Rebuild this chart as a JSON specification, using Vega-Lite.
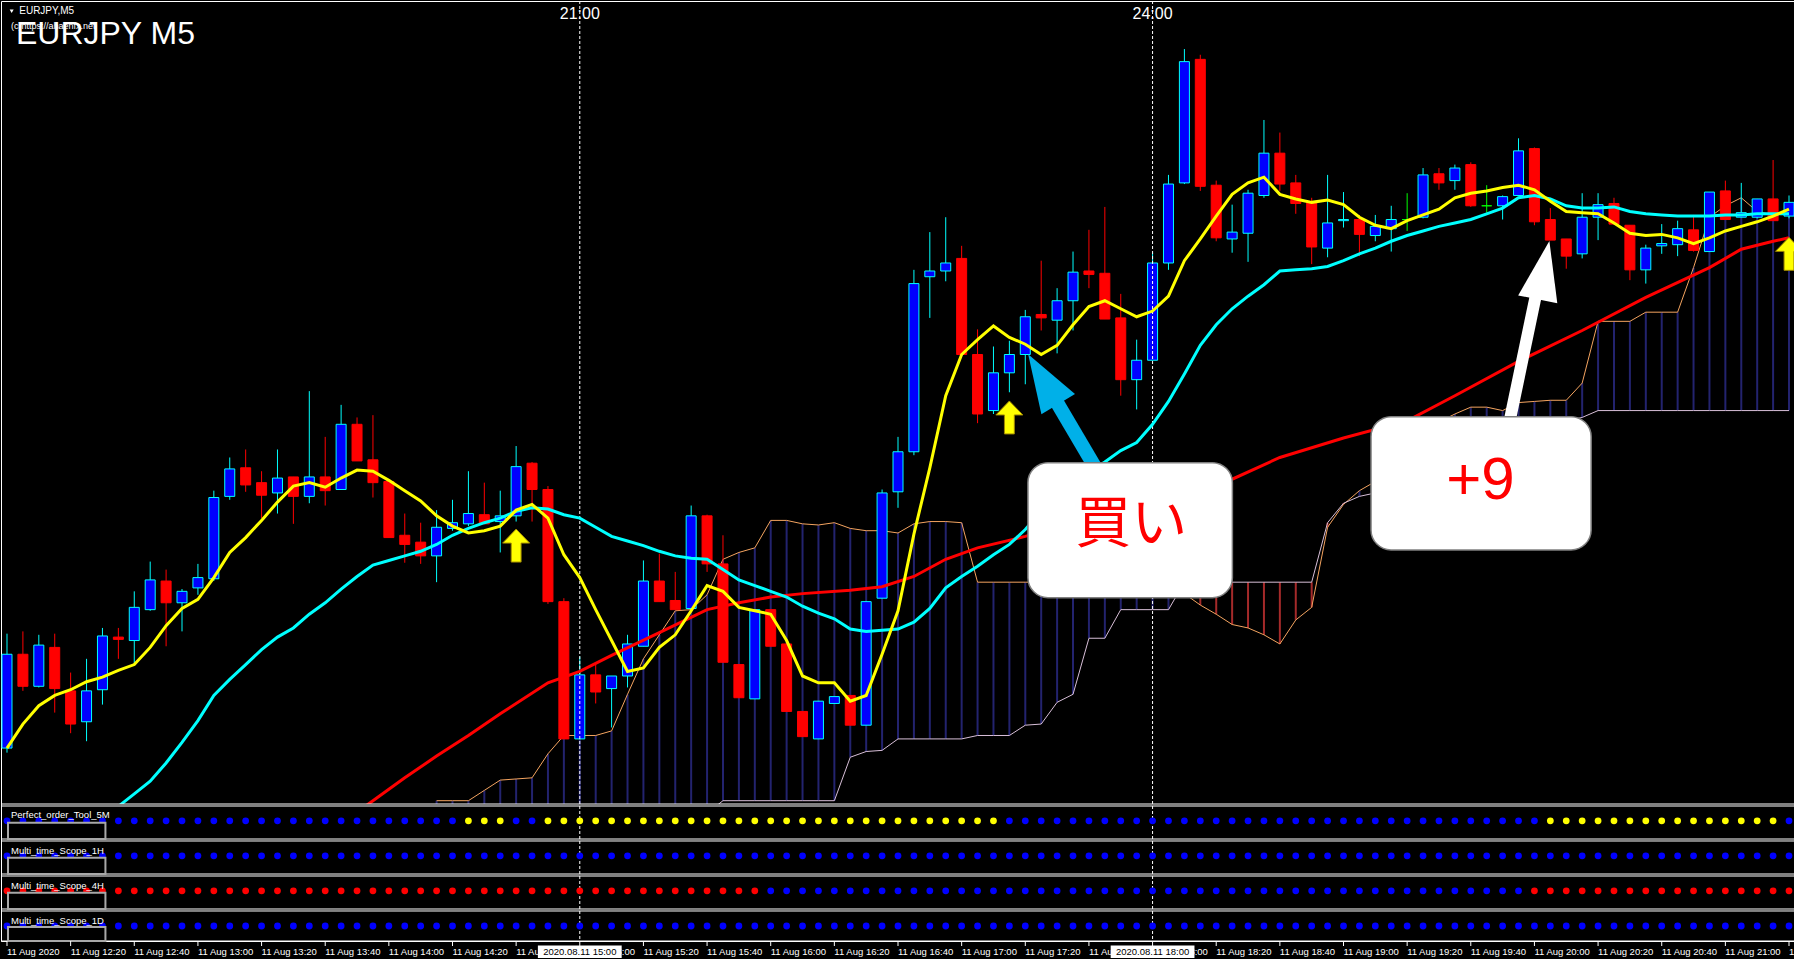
{
"$schema":"https://vega.github.io/schema/vega-lite/v6.json",
"background":"#000000",
"padding":0,
"config":{"view":{"stroke":"#ffffff","strokeWidth":1},"font":"Liberation Sans"},
"datasets":{
"bars":[
{"t":"2020-08-11T12:00Z","o":124.847,"h":124.947,"l":124.843,"c":124.929,"d":"u","m1":124.847,"p":"b","q":"r"},
{"t":"2020-08-11T12:05Z","o":124.929,"h":124.949,"l":124.897,"c":124.901,"d":"d","m1":124.868,"p":"b","q":"r"},
{"t":"2020-08-11T12:10Z","o":124.901,"h":124.946,"l":124.900,"c":124.937,"d":"u","m1":124.884,"p":"b","q":"r"},
{"t":"2020-08-11T12:15Z","o":124.935,"h":124.947,"l":124.878,"c":124.899,"d":"d","m1":124.893,"p":"b","q":"r"},
{"t":"2020-08-11T12:20Z","o":124.897,"h":124.913,"l":124.860,"c":124.868,"d":"d","m1":124.898,"p":"b","q":"r"},
{"t":"2020-08-11T12:25Z","o":124.870,"h":124.925,"l":124.853,"c":124.897,"d":"u","m1":124.905,"p":"b","q":"r"},
{"t":"2020-08-11T12:30Z","o":124.898,"h":124.952,"l":124.885,"c":124.945,"d":"u","m1":124.909,"p":"b","q":"r"},
{"t":"2020-08-11T12:35Z","o":124.944,"h":124.952,"l":124.925,"c":124.942,"d":"d","m1":124.915,"m2":124.796,"p":"b","q":"r"},
{"t":"2020-08-11T12:40Z","o":124.941,"h":124.984,"l":124.921,"c":124.970,"d":"u","m1":124.920,"m2":124.807,"p":"b","q":"r"},
{"t":"2020-08-11T12:45Z","o":124.968,"h":125.010,"l":124.967,"c":124.994,"d":"u","m1":124.935,"m2":124.818,"p":"b","q":"r"},
{"t":"2020-08-11T12:50Z","o":124.993,"h":125.003,"l":124.936,"c":124.974,"d":"d","m1":124.954,"m2":124.834,"p":"b","q":"r"},
{"t":"2020-08-11T12:55Z","o":124.974,"h":124.986,"l":124.949,"c":124.984,"d":"u","m1":124.969,"m2":124.852,"p":"b","q":"r"},
{"t":"2020-08-11T13:00Z","o":124.987,"h":125.008,"l":124.981,"c":124.996,"d":"u","m1":124.977,"m2":124.871,"p":"b","q":"r"},
{"t":"2020-08-11T13:05Z","o":124.995,"h":125.072,"l":124.993,"c":125.066,"d":"u","m1":124.996,"m2":124.893,"p":"b","q":"r"},
{"t":"2020-08-11T13:10Z","o":125.067,"h":125.101,"l":125.064,"c":125.091,"d":"u","m1":125.018,"m2":124.907,"p":"b","q":"r"},
{"t":"2020-08-11T13:15Z","o":125.092,"h":125.108,"l":125.071,"c":125.077,"d":"d","m1":125.031,"m2":124.920,"p":"b","q":"r"},
{"t":"2020-08-11T13:20Z","o":125.079,"h":125.089,"l":125.048,"c":125.068,"d":"d","m1":125.046,"m2":124.933,"p":"b","q":"r"},
{"t":"2020-08-11T13:25Z","o":125.070,"h":125.108,"l":125.052,"c":125.083,"d":"u","m1":125.062,"m2":124.944,"p":"b","q":"r"},
{"t":"2020-08-11T13:30Z","o":125.084,"h":125.084,"l":125.043,"c":125.067,"d":"d","m1":125.076,"m2":124.952,"p":"b","q":"r"},
{"t":"2020-08-11T13:35Z","o":125.067,"h":125.159,"l":125.061,"c":125.084,"d":"u","m1":125.079,"m2":124.964,"p":"b","q":"r"},
{"t":"2020-08-11T13:40Z","o":125.084,"h":125.119,"l":125.059,"c":125.072,"d":"d","m1":125.075,"m2":124.974,"p":"b","q":"r"},
{"t":"2020-08-11T13:45Z","o":125.073,"h":125.147,"l":125.073,"c":125.130,"d":"u","m1":125.083,"m2":124.986,"p":"b","q":"r"},
{"t":"2020-08-11T13:50Z","o":125.130,"h":125.136,"l":125.098,"c":125.098,"d":"d","m1":125.090,"m2":124.997,"p":"b","q":"r"},
{"t":"2020-08-11T13:55Z","o":125.099,"h":125.138,"l":125.066,"c":125.079,"d":"d","m1":125.089,"m2":125.007,"p":"b","q":"r"},
{"t":"2020-08-11T14:00Z","o":125.080,"h":125.080,"l":125.031,"c":125.031,"d":"d","m1":125.081,"m2":125.011,"p":"b","q":"r"},
{"t":"2020-08-11T14:05Z","o":125.033,"h":125.052,"l":125.009,"c":125.025,"d":"d","m1":125.072,"m2":125.015,"p":"b","q":"r"},
{"t":"2020-08-11T14:10Z","o":125.027,"h":125.044,"l":125.008,"c":125.015,"d":"d","m1":125.063,"m2":125.019,"p":"b","q":"r"},
{"t":"2020-08-11T14:15Z","o":125.015,"h":125.055,"l":124.992,"c":125.040,"d":"u","m1":125.050,"m2":125.025,"sa":124.801,"sb":124.790,"p":"b","q":"r"},
{"t":"2020-08-11T14:20Z","o":125.039,"h":125.064,"l":125.037,"c":125.044,"d":"u","m1":125.041,"m2":125.033,"sa":124.801,"sb":124.790,"p":"b","q":"r"},
{"t":"2020-08-11T14:25Z","o":125.043,"h":125.089,"l":125.041,"c":125.052,"d":"u","m1":125.035,"m2":125.039,"sa":124.801,"sb":124.790,"p":"y","q":"r"},
{"t":"2020-08-11T14:30Z","o":125.051,"h":125.079,"l":125.043,"c":125.043,"d":"d","m1":125.037,"m2":125.044,"sa":124.810,"sb":124.790,"p":"y","q":"r"},
{"t":"2020-08-11T14:35Z","o":125.045,"h":125.072,"l":125.018,"c":125.050,"d":"u","m1":125.041,"m2":125.048,"sa":124.819,"sb":124.790,"p":"y","q":"r"},
{"t":"2020-08-11T14:40Z","o":125.050,"h":125.111,"l":125.045,"c":125.093,"d":"u","m1":125.055,"m2":125.054,"sa":124.820,"sb":124.790,"p":"b","q":"r"},
{"t":"2020-08-11T14:45Z","o":125.096,"h":125.097,"l":125.045,"c":125.073,"d":"d","m1":125.060,"m2":125.057,"sa":124.821,"sb":124.790,"p":"b","q":"r"},
{"t":"2020-08-11T14:50Z","o":125.073,"h":125.076,"l":124.973,"c":124.975,"d":"d","m1":125.048,"m2":125.056,"sa":124.842,"sb":124.790,"p":"y","q":"r"},
{"t":"2020-08-11T14:55Z","o":124.975,"h":124.978,"l":124.855,"c":124.855,"d":"d","m1":125.016,"m2":125.051,"sa":124.858,"sb":124.790,"p":"y","q":"r"},
{"t":"2020-08-11T15:00Z","o":124.855,"h":124.927,"l":124.855,"c":124.911,"d":"u","m1":124.996,"m2":125.048,"sa":124.858,"sb":124.790,"p":"y","q":"r"},
{"t":"2020-08-11T15:05Z","o":124.911,"h":124.922,"l":124.886,"c":124.896,"d":"d","m1":124.968,"m2":125.040,"sa":124.858,"sb":124.790,"p":"y","q":"r"},
{"t":"2020-08-11T15:10Z","o":124.899,"h":124.910,"l":124.865,"c":124.910,"d":"u","m1":124.941,"m2":125.032,"sa":124.862,"sb":124.790,"p":"y","q":"r"},
{"t":"2020-08-11T15:15Z","o":124.910,"h":124.946,"l":124.900,"c":124.938,"d":"u","m1":124.914,"m2":125.028,"sa":124.894,"sb":124.790,"p":"y","q":"r"},
{"t":"2020-08-11T15:20Z","o":124.936,"h":125.011,"l":124.936,"c":124.993,"d":"u","m1":124.917,"m2":125.024,"sa":124.925,"sb":124.790,"p":"y","q":"r"},
{"t":"2020-08-11T15:25Z","o":124.993,"h":125.017,"l":124.975,"c":124.975,"d":"d","m1":124.935,"m2":125.019,"sa":124.946,"sb":124.790,"p":"y","q":"r"},
{"t":"2020-08-11T15:30Z","o":124.976,"h":125.001,"l":124.968,"c":124.968,"d":"d","m1":124.946,"m2":125.015,"sa":124.967,"sb":124.790,"p":"y","q":"r"},
{"t":"2020-08-11T15:35Z","o":124.969,"h":125.059,"l":124.969,"c":125.050,"d":"u","m1":124.967,"m2":125.013,"sa":124.968,"sb":124.790,"p":"y","q":"r"},
{"t":"2020-08-11T15:40Z","o":125.050,"h":125.051,"l":125.001,"c":125.008,"d":"d","m1":124.989,"m2":125.012,"sa":124.981,"sb":124.790,"p":"y","q":"r"},
{"t":"2020-08-11T15:45Z","o":125.008,"h":125.033,"l":124.922,"c":124.922,"d":"d","m1":124.984,"m2":125.003,"sa":125.012,"sb":124.801,"p":"y","q":"r"},
{"t":"2020-08-11T15:50Z","o":124.920,"h":124.920,"l":124.891,"c":124.891,"d":"d","m1":124.970,"m2":124.994,"sa":125.018,"sb":124.801,"p":"y","q":"r"},
{"t":"2020-08-11T15:55Z","o":124.890,"h":124.968,"l":124.890,"c":124.968,"d":"u","m1":124.967,"m2":124.989,"sa":125.022,"sb":124.801,"p":"y","q":"r"},
{"t":"2020-08-11T16:00Z","o":124.968,"h":124.968,"l":124.936,"c":124.936,"d":"d","m1":124.964,"m2":124.984,"sa":125.046,"sb":124.801,"p":"y","q":"b"},
{"t":"2020-08-11T16:05Z","o":124.938,"h":124.938,"l":124.879,"c":124.879,"d":"d","m1":124.941,"m2":124.979,"sa":125.046,"sb":124.801,"p":"y","q":"b"},
{"t":"2020-08-11T16:10Z","o":124.879,"h":124.879,"l":124.857,"c":124.857,"d":"d","m1":124.910,"m2":124.971,"sa":125.043,"sb":124.801,"p":"y","q":"b"},
{"t":"2020-08-11T16:15Z","o":124.855,"h":124.888,"l":124.855,"c":124.888,"d":"u","m1":124.904,"m2":124.965,"sa":125.042,"sb":124.801,"p":"y","q":"b"},
{"t":"2020-08-11T16:20Z","o":124.886,"h":124.892,"l":124.886,"c":124.892,"d":"u","m1":124.904,"m2":124.960,"sa":125.044,"sb":124.801,"p":"y","q":"b"},
{"t":"2020-08-11T16:25Z","o":124.893,"h":124.893,"l":124.867,"c":124.867,"d":"d","m1":124.888,"m2":124.951,"sa":125.039,"sb":124.839,"p":"y","q":"b"},
{"t":"2020-08-11T16:30Z","o":124.867,"h":124.975,"l":124.867,"c":124.975,"d":"u","m1":124.893,"m2":124.949,"sa":125.037,"sb":124.844,"p":"y","q":"b"},
{"t":"2020-08-11T16:35Z","o":124.978,"h":125.073,"l":124.978,"c":125.070,"d":"u","m1":124.929,"m2":124.950,"sa":125.037,"sb":124.845,"p":"y","q":"b"},
{"t":"2020-08-11T16:40Z","o":125.071,"h":125.119,"l":125.057,"c":125.106,"d":"u","m1":124.967,"m2":124.951,"sa":125.035,"sb":124.855,"p":"y","q":"b"},
{"t":"2020-08-11T16:45Z","o":125.106,"h":125.265,"l":125.103,"c":125.253,"d":"u","m1":125.034,"m2":124.957,"sa":125.043,"sb":124.855,"p":"y","q":"b"},
{"t":"2020-08-11T16:50Z","o":125.259,"h":125.298,"l":125.223,"c":125.264,"d":"u","m1":125.092,"m2":124.969,"sa":125.045,"sb":124.855,"p":"y","q":"b"},
{"t":"2020-08-11T16:55Z","o":125.264,"h":125.311,"l":125.255,"c":125.271,"d":"u","m1":125.155,"m2":124.987,"sa":125.045,"sb":124.855,"p":"y","q":"b"},
{"t":"2020-08-11T17:00Z","o":125.275,"h":125.286,"l":125.191,"c":125.191,"d":"d","m1":125.191,"m2":124.997,"sa":125.044,"sb":124.855,"p":"y","q":"b"},
{"t":"2020-08-11T17:05Z","o":125.191,"h":125.213,"l":125.131,"c":125.139,"d":"d","m1":125.204,"m2":125.006,"sa":124.992,"sb":124.858,"p":"y","q":"b"},
{"t":"2020-08-11T17:10Z","o":125.142,"h":125.198,"l":125.139,"c":125.175,"d":"u","m1":125.216,"m2":125.016,"sa":124.992,"sb":124.858,"p":"y","q":"b"},
{"t":"2020-08-11T17:15Z","o":125.175,"h":125.203,"l":125.158,"c":125.191,"d":"u","m1":125.206,"m2":125.025,"sa":124.992,"sb":124.858,"p":"b","q":"b"},
{"t":"2020-08-11T17:20Z","o":125.191,"h":125.230,"l":125.165,"c":125.224,"d":"u","m1":125.200,"m2":125.038,"sa":124.992,"sb":124.867,"p":"b","q":"b"},
{"t":"2020-08-11T17:25Z","o":125.226,"h":125.273,"l":125.212,"c":125.223,"d":"d","m1":125.191,"m2":125.054,"sa":124.992,"sb":124.868,"p":"b","q":"b"},
{"t":"2020-08-11T17:30Z","o":125.221,"h":125.249,"l":125.192,"c":125.238,"d":"u","m1":125.199,"m2":125.069,"sa":124.992,"sb":124.887,"p":"b","q":"b"},
{"t":"2020-08-11T17:35Z","o":125.238,"h":125.281,"l":125.212,"c":125.263,"d":"u","m1":125.217,"m2":125.080,"sa":124.992,"sb":124.894,"p":"b","q":"b"},
{"t":"2020-08-11T17:40Z","o":125.264,"h":125.300,"l":125.249,"c":125.261,"d":"d","m1":125.233,"m2":125.089,"sa":124.992,"sb":124.943,"p":"b","q":"b"},
{"t":"2020-08-11T17:45Z","o":125.262,"h":125.320,"l":125.222,"c":125.222,"d":"d","m1":125.238,"m2":125.097,"sa":124.992,"sb":124.943,"p":"b","q":"b"},
{"t":"2020-08-11T17:50Z","o":125.223,"h":125.244,"l":125.155,"c":125.169,"d":"d","m1":125.231,"m2":125.107,"sa":124.992,"sb":124.968,"p":"b","q":"b"},
{"t":"2020-08-11T17:55Z","o":125.169,"h":125.204,"l":125.143,"c":125.186,"d":"u","m1":125.224,"m2":125.114,"sa":124.992,"sb":124.968,"p":"b","q":"b"},
{"t":"2020-08-11T18:00Z","o":125.186,"h":125.280,"l":125.186,"c":125.271,"d":"u","m1":125.229,"m2":125.130,"sa":124.992,"sb":124.968,"p":"b","q":"b"},
{"t":"2020-08-11T18:05Z","o":125.271,"h":125.348,"l":125.265,"c":125.340,"d":"u","m1":125.242,"m2":125.150,"sa":124.992,"sb":124.968,"p":"b","q":"b"},
{"t":"2020-08-11T18:10Z","o":125.341,"h":125.458,"l":125.340,"c":125.447,"d":"u","m1":125.273,"m2":125.174,"sa":124.982,"sb":124.992,"p":"b","q":"b"},
{"t":"2020-08-11T18:15Z","o":125.449,"h":125.453,"l":125.334,"c":125.338,"d":"d","m1":125.292,"m2":125.199,"sa":124.972,"sb":124.992,"p":"b","q":"b"},
{"t":"2020-08-11T18:20Z","o":125.339,"h":125.343,"l":125.290,"c":125.293,"d":"d","m1":125.312,"m2":125.217,"sa":124.964,"sb":124.992,"p":"b","q":"b"},
{"t":"2020-08-11T18:25Z","o":125.292,"h":125.322,"l":125.280,"c":125.298,"d":"u","m1":125.331,"m2":125.231,"sa":124.955,"sb":124.992,"p":"b","q":"b"},
{"t":"2020-08-11T18:30Z","o":125.297,"h":125.335,"l":125.272,"c":125.332,"d":"u","m1":125.341,"m2":125.242,"sa":124.952,"sb":124.992,"p":"b","q":"b"},
{"t":"2020-08-11T18:35Z","o":125.330,"h":125.396,"l":125.328,"c":125.367,"d":"u","m1":125.346,"m2":125.252,"sa":124.946,"sb":124.992,"p":"b","q":"b"},
{"t":"2020-08-11T18:40Z","o":125.367,"h":125.385,"l":125.334,"c":125.340,"d":"d","m1":125.331,"m2":125.264,"sa":124.938,"sb":124.992,"p":"b","q":"b"},
{"t":"2020-08-11T18:45Z","o":125.341,"h":125.348,"l":125.314,"c":125.323,"d":"d","m1":125.327,"m2":125.265,"sa":124.959,"sb":124.992,"p":"b","q":"b"},
{"t":"2020-08-11T18:50Z","o":125.324,"h":125.328,"l":125.270,"c":125.285,"d":"d","m1":125.324,"m2":125.266,"sa":124.970,"sb":124.992,"p":"b","q":"b"},
{"t":"2020-08-11T18:55Z","o":125.284,"h":125.348,"l":125.276,"c":125.306,"d":"u","m1":125.326,"m2":125.268,"sa":125.040,"sb":125.044,"p":"b","q":"b"},
{"t":"2020-08-11T19:00Z","o":125.308,"h":125.333,"l":125.302,"c":125.309,"d":"u","m1":125.322,"m2":125.273,"sa":125.060,"sb":125.061,"p":"b","q":"b"},
{"t":"2020-08-11T19:05Z","o":125.309,"h":125.313,"l":125.277,"c":125.296,"d":"d","m1":125.311,"m2":125.279,"sa":125.072,"sb":125.067,"p":"b","q":"b"},
{"t":"2020-08-11T19:10Z","o":125.295,"h":125.313,"l":125.290,"c":125.303,"d":"u","m1":125.304,"m2":125.284,"sa":125.080,"sb":125.070,"p":"b","q":"b"},
{"t":"2020-08-11T19:15Z","o":125.301,"h":125.321,"l":125.281,"c":125.309,"d":"u","m1":125.301,"m2":125.290,"sa":125.095,"sb":125.072,"p":"b","q":"b"},
{"t":"2020-08-11T19:20Z","o":125.309,"h":125.332,"l":125.299,"c":125.309,"d":"n","m1":125.308,"m2":125.295,"sa":125.110,"sb":125.080,"p":"b","q":"b"},
{"t":"2020-08-11T19:25Z","o":125.311,"h":125.354,"l":125.310,"c":125.348,"d":"u","m1":125.313,"m2":125.299,"sa":125.122,"sb":125.090,"p":"b","q":"b"},
{"t":"2020-08-11T19:30Z","o":125.349,"h":125.354,"l":125.335,"c":125.341,"d":"d","m1":125.318,"m2":125.303,"sa":125.132,"sb":125.100,"p":"b","q":"b"},
{"t":"2020-08-11T19:35Z","o":125.343,"h":125.357,"l":125.335,"c":125.354,"d":"u","m1":125.328,"m2":125.306,"sa":125.139,"sb":125.105,"p":"b","q":"b"},
{"t":"2020-08-11T19:40Z","o":125.357,"h":125.359,"l":125.320,"c":125.321,"d":"d","m1":125.332,"m2":125.309,"sa":125.145,"sb":125.110,"p":"b","q":"b"},
{"t":"2020-08-11T19:45Z","o":125.321,"h":125.339,"l":125.315,"c":125.321,"d":"n","m1":125.334,"m2":125.314,"sa":125.145,"sb":125.114,"p":"b","q":"b"},
{"t":"2020-08-11T19:50Z","o":125.321,"h":125.330,"l":125.309,"c":125.329,"d":"u","m1":125.337,"m2":125.319,"sa":125.142,"sb":125.118,"p":"b","q":"b"},
{"t":"2020-08-11T19:55Z","o":125.330,"h":125.380,"l":125.330,"c":125.369,"d":"u","m1":125.339,"m2":125.328,"sa":125.149,"sb":125.122,"p":"b","q":"b"},
{"t":"2020-08-11T20:00Z","o":125.371,"h":125.372,"l":125.304,"c":125.307,"d":"d","m1":125.335,"m2":125.330,"sa":125.150,"sb":125.126,"p":"b","q":"r"},
{"t":"2020-08-11T20:05Z","o":125.309,"h":125.319,"l":125.291,"c":125.291,"d":"d","m1":125.325,"m2":125.327,"sa":125.151,"sb":125.130,"p":"y","q":"r"},
{"t":"2020-08-11T20:10Z","o":125.292,"h":125.292,"l":125.266,"c":125.277,"d":"d","m1":125.316,"m2":125.321,"sa":125.151,"sb":125.133,"p":"y","q":"r"},
{"t":"2020-08-11T20:15Z","o":125.279,"h":125.332,"l":125.275,"c":125.311,"d":"u","m1":125.315,"m2":125.319,"sa":125.166,"sb":125.136,"p":"y","q":"r"},
{"t":"2020-08-11T20:20Z","o":125.311,"h":125.332,"l":125.291,"c":125.322,"d":"u","m1":125.314,"m2":125.319,"sa":125.220,"sb":125.142,"p":"y","q":"r"},
{"t":"2020-08-11T20:25Z","o":125.323,"h":125.328,"l":125.305,"c":125.305,"d":"d","m1":125.306,"m2":125.320,"sa":125.220,"sb":125.142,"p":"y","q":"r"},
{"t":"2020-08-11T20:30Z","o":125.304,"h":125.304,"l":125.256,"c":125.265,"d":"d","m1":125.297,"m2":125.316,"sa":125.220,"sb":125.142,"p":"y","q":"r"},
{"t":"2020-08-11T20:35Z","o":125.265,"h":125.287,"l":125.253,"c":125.284,"d":"u","m1":125.295,"m2":125.314,"sa":125.228,"sb":125.142,"p":"y","q":"r"},
{"t":"2020-08-11T20:40Z","o":125.286,"h":125.305,"l":125.279,"c":125.288,"d":"u","m1":125.296,"m2":125.313,"sa":125.228,"sb":125.142,"p":"y","q":"r"},
{"t":"2020-08-11T20:45Z","o":125.287,"h":125.308,"l":125.277,"c":125.301,"d":"u","m1":125.293,"m2":125.312,"sa":125.228,"sb":125.142,"p":"y","q":"r"},
{"t":"2020-08-11T20:50Z","o":125.300,"h":125.313,"l":125.281,"c":125.282,"d":"d","m1":125.288,"m2":125.312,"sa":125.267,"sb":125.142,"p":"y","q":"r"},
{"t":"2020-08-11T20:55Z","o":125.281,"h":125.333,"l":125.281,"c":125.333,"d":"u","m1":125.293,"m2":125.312,"sa":125.311,"sb":125.142,"p":"y","q":"r"},
{"t":"2020-08-11T21:00Z","o":125.334,"h":125.343,"l":125.309,"c":125.309,"d":"d","m1":125.299,"m2":125.313,"sa":125.321,"sb":125.142,"p":"y","q":"r"},
{"t":"2020-08-11T21:05Z","o":125.311,"h":125.341,"l":125.311,"c":125.315,"d":"u","m1":125.303,"m2":125.313,"sa":125.328,"sb":125.142,"p":"y","q":"r"},
{"t":"2020-08-11T21:10Z","o":125.311,"h":125.327,"l":125.310,"c":125.327,"d":"u","m1":125.307,"m2":125.314,"sa":125.316,"sb":125.142,"p":"y","q":"r"},
{"t":"2020-08-11T21:15Z","o":125.327,"h":125.361,"l":125.308,"c":125.308,"d":"d","m1":125.312,"m2":125.314,"sa":125.313,"sb":125.142,"p":"y","q":"r"},
{"t":"2020-08-11T21:20Z","o":125.312,"h":125.330,"l":125.310,"c":125.324,"d":"u","m1":125.318,"m2":125.314,"sa":125.314,"sb":125.142,"p":"b","q":"r"}
],
"ma3":[
{"t":"2020-08-11T13:50Z","v":124.791},{"t":"2020-08-11T13:55Z","v":124.801},{"t":"2020-08-11T14:05Z","v":124.821},{"t":"2020-08-11T14:15Z","v":124.840},{"t":"2020-08-11T14:25Z","v":124.858},{"t":"2020-08-11T14:35Z","v":124.877},{"t":"2020-08-11T14:50Z","v":124.904},{"t":"2020-08-11T15:00Z","v":124.914},{"t":"2020-08-11T15:10Z","v":124.928},{"t":"2020-08-11T15:25Z","v":124.948},{"t":"2020-08-11T15:40Z","v":124.968},{"t":"2020-08-11T15:50Z","v":124.974},{"t":"2020-08-11T16:00Z","v":124.979},{"t":"2020-08-11T16:10Z","v":124.982},{"t":"2020-08-11T16:25Z","v":124.985},{"t":"2020-08-11T16:35Z","v":124.988},{"t":"2020-08-11T16:45Z","v":124.997},{"t":"2020-08-11T16:55Z","v":125.012},{"t":"2020-08-11T17:05Z","v":125.022},{"t":"2020-08-11T17:20Z","v":125.032},{"t":"2020-08-11T17:35Z","v":125.044},{"t":"2020-08-11T17:50Z","v":125.056},{"t":"2020-08-11T18:05Z","v":125.068},{"t":"2020-08-11T18:25Z","v":125.082},{"t":"2020-08-11T18:40Z","v":125.101},{"t":"2020-08-11T19:00Z","v":125.118},{"t":"2020-08-11T19:20Z","v":125.133},{"t":"2020-08-11T19:35Z","v":125.155},{"t":"2020-08-11T19:55Z","v":125.185},{"t":"2020-08-11T20:15Z","v":125.212},{"t":"2020-08-11T20:35Z","v":125.241},{"t":"2020-08-11T20:55Z","v":125.267},{"t":"2020-08-11T21:05Z","v":125.283},{"t":"2020-08-11T21:15Z","v":125.290},{"t":"2020-08-11T21:20Z","v":125.293}
],
"seps":[{"t":"2020-08-11T15:00Z","jp":"21:00","lab":"2020.08.11 15:00"},{"t":"2020-08-11T18:00Z","jp":"24:00","lab":"2020.08.11 18:00"}],
"sig":[{"t":"2020-08-11T14:40Z","p":125.024},{"t":"2020-08-11T17:15Z","p":125.136},{"t":"2020-08-11T21:20Z","p":125.279}],
"ticks":[
{"t":"2020-08-11T12:00Z","lab":"11 Aug 2020"},{"t":"2020-08-11T12:20Z","lab":"11 Aug 12:20"},{"t":"2020-08-11T12:40Z","lab":"11 Aug 12:40"},{"t":"2020-08-11T13:00Z","lab":"11 Aug 13:00"},{"t":"2020-08-11T13:20Z","lab":"11 Aug 13:20"},{"t":"2020-08-11T13:40Z","lab":"11 Aug 13:40"},{"t":"2020-08-11T14:00Z","lab":"11 Aug 14:00"},{"t":"2020-08-11T14:20Z","lab":"11 Aug 14:20"},{"t":"2020-08-11T14:40Z","lab":"11 Aug 14:40"},{"t":"2020-08-11T15:00Z","lab":"11 Aug 15:00"},{"t":"2020-08-11T15:20Z","lab":"11 Aug 15:20"},{"t":"2020-08-11T15:40Z","lab":"11 Aug 15:40"},{"t":"2020-08-11T16:00Z","lab":"11 Aug 16:00"},{"t":"2020-08-11T16:20Z","lab":"11 Aug 16:20"},{"t":"2020-08-11T16:40Z","lab":"11 Aug 16:40"},{"t":"2020-08-11T17:00Z","lab":"11 Aug 17:00"},{"t":"2020-08-11T17:20Z","lab":"11 Aug 17:20"},{"t":"2020-08-11T17:40Z","lab":"11 Aug 17:40"},{"t":"2020-08-11T18:00Z","lab":"11 Aug 18:00"},{"t":"2020-08-11T18:20Z","lab":"11 Aug 18:20"},{"t":"2020-08-11T18:40Z","lab":"11 Aug 18:40"},{"t":"2020-08-11T19:00Z","lab":"11 Aug 19:00"},{"t":"2020-08-11T19:20Z","lab":"11 Aug 19:20"},{"t":"2020-08-11T19:40Z","lab":"11 Aug 19:40"},{"t":"2020-08-11T20:00Z","lab":"11 Aug 20:00"},{"t":"2020-08-11T20:20Z","lab":"11 Aug 20:20"},{"t":"2020-08-11T20:40Z","lab":"11 Aug 20:40"},{"t":"2020-08-11T21:00Z","lab":"11 Aug 21:00"},{"t":"2020-08-11T21:20Z","lab":"11 Aug 21:20"}
]
},
"width":1794,"height":940,
"resolve":{"scale":{"y":"independent"}},
"layer":[
{"layer":[
{"data":{"name":"bars"},"transform":[{"filter":"isValid(datum.sa)"}],"mark":{"type":"rule","strokeWidth":2,"clip":true},
 "encoding":{"x":{"field":"t","type":"temporal","scale":{"type":"utc","domain":[{"year":2020,"month":8,"date":11,"hours":11,"minutes":59,"seconds":41,"milliseconds":250,"utc":true},{"year":2020,"month":8,"date":11,"hours":21,"minutes":20,"seconds":18,"milliseconds":750,"utc":true}]},"axis":null},
 "y":{"field":"sa","type":"quantitative","scale":{"domain":[124.678367,125.5],"zero":false,"nice":false},"axis":null},"y2":{"field":"sb"},
 "color":{"condition":{"test":"datum.sa >= datum.sb","value":"#23236e"},"value":"#a52a2a"}}},
{"data":{"name":"bars"},"transform":[{"filter":"isValid(datum.sa)"}],"mark":{"type":"line","color":"#f4a460","strokeWidth":1,"clip":true},
 "encoding":{"x":{"field":"t","type":"temporal","scale":{"type":"utc","domain":[{"year":2020,"month":8,"date":11,"hours":11,"minutes":59,"seconds":41,"milliseconds":250,"utc":true},{"year":2020,"month":8,"date":11,"hours":21,"minutes":20,"seconds":18,"milliseconds":750,"utc":true}]},"axis":null},
 "y":{"field":"sa","type":"quantitative","scale":{"domain":[124.678367,125.5],"zero":false,"nice":false},"axis":null}}},
{"data":{"name":"bars"},"transform":[{"filter":"isValid(datum.sb)"}],"mark":{"type":"line","color":"#d8bfd8","strokeWidth":1,"clip":true},
 "encoding":{"x":{"field":"t","type":"temporal","scale":{"type":"utc","domain":[{"year":2020,"month":8,"date":11,"hours":11,"minutes":59,"seconds":41,"milliseconds":250,"utc":true},{"year":2020,"month":8,"date":11,"hours":21,"minutes":20,"seconds":18,"milliseconds":750,"utc":true}]},"axis":null},
 "y":{"field":"sb","type":"quantitative","scale":{"domain":[124.678367,125.5],"zero":false,"nice":false},"axis":null}}},
{"data":{"name":"bars"},"mark":{"type":"rule","strokeWidth":1,"clip":true},
 "encoding":{"x":{"field":"t","type":"temporal","scale":{"type":"utc","domain":[{"year":2020,"month":8,"date":11,"hours":11,"minutes":59,"seconds":41,"milliseconds":250,"utc":true},{"year":2020,"month":8,"date":11,"hours":21,"minutes":20,"seconds":18,"milliseconds":750,"utc":true}]},"axis":null},
 "y":{"field":"l","type":"quantitative","scale":{"domain":[124.678367,125.5],"zero":false,"nice":false},"axis":null},"y2":{"field":"h"},
 "stroke":{"field":"d","type":"nominal","scale":{"domain":["u","d","n"],"range":["#00ffff","#ff0000","#00ff00"]},"legend":null}}},
{"data":{"name":"bars"},"mark":{"type":"bar","width":10,"strokeWidth":1,"clip":true},
 "encoding":{"x":{"field":"t","type":"temporal","scale":{"type":"utc","domain":[{"year":2020,"month":8,"date":11,"hours":11,"minutes":59,"seconds":41,"milliseconds":250,"utc":true},{"year":2020,"month":8,"date":11,"hours":21,"minutes":20,"seconds":18,"milliseconds":750,"utc":true}]},"axis":null},
 "y":{"field":"o","type":"quantitative","scale":{"domain":[124.678367,125.5],"zero":false,"nice":false},"axis":null},"y2":{"field":"c"},
 "fill":{"field":"d","type":"nominal","scale":{"domain":["u","d","n"],"range":["#0000ff","#ff0000","#00ff00"]},"legend":null},
 "stroke":{"field":"d","type":"nominal","scale":{"domain":["u","d","n"],"range":["#00ffff","#ff0000","#00ff00"]},"legend":null}}},
{"data":{"name":"seps"},"mark":{"type":"rule","color":"#ffffff","strokeWidth":1,"strokeDash":[3,2]},
 "encoding":{"x":{"field":"t","type":"temporal","scale":{"type":"utc","domain":[{"year":2020,"month":8,"date":11,"hours":11,"minutes":59,"seconds":41,"milliseconds":250,"utc":true},{"year":2020,"month":8,"date":11,"hours":21,"minutes":20,"seconds":18,"milliseconds":750,"utc":true}]},"axis":null}}},
{"data":{"name":"ma3"},"mark":{"type":"line","color":"#ff0000","strokeWidth":3,"clip":true},
 "encoding":{"x":{"field":"t","type":"temporal","scale":{"type":"utc","domain":[{"year":2020,"month":8,"date":11,"hours":11,"minutes":59,"seconds":41,"milliseconds":250,"utc":true},{"year":2020,"month":8,"date":11,"hours":21,"minutes":20,"seconds":18,"milliseconds":750,"utc":true}]},"axis":null},
 "y":{"field":"v","type":"quantitative","scale":{"domain":[124.678367,125.5],"zero":false,"nice":false},"axis":null}}},
{"data":{"name":"bars"},"transform":[{"filter":"isValid(datum.m2)"}],"mark":{"type":"line","color":"#00ffff","strokeWidth":3,"clip":true},
 "encoding":{"x":{"field":"t","type":"temporal","scale":{"type":"utc","domain":[{"year":2020,"month":8,"date":11,"hours":11,"minutes":59,"seconds":41,"milliseconds":250,"utc":true},{"year":2020,"month":8,"date":11,"hours":21,"minutes":20,"seconds":18,"milliseconds":750,"utc":true}]},"axis":null},
 "y":{"field":"m2","type":"quantitative","scale":{"domain":[124.678367,125.5],"zero":false,"nice":false},"axis":null}}},
{"data":{"name":"bars"},"mark":{"type":"line","color":"#ffff00","strokeWidth":3,"clip":true},
 "encoding":{"x":{"field":"t","type":"temporal","scale":{"type":"utc","domain":[{"year":2020,"month":8,"date":11,"hours":11,"minutes":59,"seconds":41,"milliseconds":250,"utc":true},{"year":2020,"month":8,"date":11,"hours":21,"minutes":20,"seconds":18,"milliseconds":750,"utc":true}]},"axis":null},
 "y":{"field":"m1","type":"quantitative","scale":{"domain":[124.678367,125.5],"zero":false,"nice":false},"axis":null}}},
{"data":{"name":"sig"},"mark":{"type":"point","shape":"M0,-1L0.82,-0.15L0.3,-0.15L0.3,1L-0.3,1L-0.3,-0.15L-0.82,-0.15Z","size":1089,"filled":true,"color":"#ffff00","stroke":"#a08800","strokeWidth":1,"opacity":1},
 "encoding":{"x":{"field":"t","type":"temporal","scale":{"type":"utc","domain":[{"year":2020,"month":8,"date":11,"hours":11,"minutes":59,"seconds":41,"milliseconds":250,"utc":true},{"year":2020,"month":8,"date":11,"hours":21,"minutes":20,"seconds":18,"milliseconds":750,"utc":true}]},"axis":null},
 "y":{"field":"p","type":"quantitative","scale":{"domain":[124.678367,125.5],"zero":false,"nice":false},"axis":null}}},
{"data":{"values":[{"t":"2020-08-11T17:29:20Z","t2":"2020-08-11T17:42:54Z","p":125.152,"p2":125.088}],"format":{"parse":{"t":"date","t2":"date"}}},"mark":{"type":"rule","color":"#00b0e8","strokeWidth":14,"strokeCap":"butt"},
 "encoding":{"x":{"field":"t","type":"temporal","scale":{"type":"utc","domain":[{"year":2020,"month":8,"date":11,"hours":11,"minutes":59,"seconds":41,"milliseconds":250,"utc":true},{"year":2020,"month":8,"date":11,"hours":21,"minutes":20,"seconds":18,"milliseconds":750,"utc":true}]},"axis":null},
 "y":{"field":"p","type":"quantitative","scale":{"domain":[124.678367,125.5],"zero":false,"nice":false},"axis":null},
 "x2":{"field":"t2"},"y2":{"field":"p2"}}},
{"data":{"values":[{}]},"mark":{"type":"point","shape":"M0,-1L0.672,1L-0.672,1Z","size":3399,"angle":-31,"filled":true,"color":"#00b0e8","opacity":1},
 "encoding":{"x":{"datum":{"year":2020,"month":8,"date":11,"hours":17,"minutes":25,"seconds":37,"milliseconds":500,"utc":true},"type":"temporal","scale":{"type":"utc","domain":[{"year":2020,"month":8,"date":11,"hours":11,"minutes":59,"seconds":41,"milliseconds":250,"utc":true},{"year":2020,"month":8,"date":11,"hours":21,"minutes":20,"seconds":18,"milliseconds":750,"utc":true}]},"axis":null},
 "y":{"datum":125.1694,"type":"quantitative","scale":{"domain":[124.678367,125.5],"zero":false,"nice":false},"axis":null}}},
{"data":{"values":[{"t":"2020-08-11T20:00:33Z","t2":"2020-08-11T19:51:37Z","p":125.244,"p2":125.125}],"format":{"parse":{"t":"date","t2":"date"}}},"mark":{"type":"rule","color":"#ffffff","strokeWidth":12,"strokeCap":"butt"},
 "encoding":{"x":{"field":"t","type":"temporal","scale":{"type":"utc","domain":[{"year":2020,"month":8,"date":11,"hours":11,"minutes":59,"seconds":41,"milliseconds":250,"utc":true},{"year":2020,"month":8,"date":11,"hours":21,"minutes":20,"seconds":18,"milliseconds":750,"utc":true}]},"axis":null},
 "y":{"field":"p","type":"quantitative","scale":{"domain":[124.678367,125.5],"zero":false,"nice":false},"axis":null},
 "x2":{"field":"t2"},"y2":{"field":"p2"}}},
{"data":{"values":[{}]},"mark":{"type":"point","shape":"M0,-1L0.672,1L-0.672,1Z","size":3528,"angle":11.3,"filled":true,"color":"#ffffff","opacity":1},
 "encoding":{"x":{"datum":{"year":2020,"month":8,"date":11,"hours":20,"minutes":2,"seconds":52,"utc":true},"type":"temporal","scale":{"type":"utc","domain":[{"year":2020,"month":8,"date":11,"hours":11,"minutes":59,"seconds":41,"milliseconds":250,"utc":true},{"year":2020,"month":8,"date":11,"hours":21,"minutes":20,"seconds":18,"milliseconds":750,"utc":true}]},"axis":null},
 "y":{"datum":125.2647,"type":"quantitative","scale":{"domain":[124.678367,125.5],"zero":false,"nice":false},"axis":null}}},
{"data":{"values":[{"t":"2020-08-11T17:20:50Z","t2":"2020-08-11T18:25:05Z","p":125.0965,"p2":124.9785},{"t":"2020-08-11T19:08:39Z","t2":"2020-08-11T20:17:49Z","p":125.1367,"p2":125.0202}],"format":{"parse":{"t":"date","t2":"date"}}},"mark":{"type":"rect","fill":"#ffffff","stroke":"#808080","strokeWidth":1.5,"cornerRadius":20},
 "encoding":{"x":{"field":"t","type":"temporal","scale":{"type":"utc","domain":[{"year":2020,"month":8,"date":11,"hours":11,"minutes":59,"seconds":41,"milliseconds":250,"utc":true},{"year":2020,"month":8,"date":11,"hours":21,"minutes":20,"seconds":18,"milliseconds":750,"utc":true}]},"axis":null},
 "x2":{"field":"t2"},
 "y":{"field":"p","type":"quantitative","scale":{"domain":[124.678367,125.5],"zero":false,"nice":false},"axis":null},"y2":{"field":"p2"}}},
{"data":{"values":[{}]},"mark":{"type":"text","text":"買い","font":"Noto Sans CJK JP","fontSize":56,"color":"#ff0000","align":"center","baseline":"alphabetic"},
 "encoding":{"x":{"datum":{"year":2020,"month":8,"date":11,"hours":17,"minutes":53,"seconds":20,"utc":true},"type":"temporal","scale":{"type":"utc","domain":[{"year":2020,"month":8,"date":11,"hours":11,"minutes":59,"seconds":41,"milliseconds":250,"utc":true},{"year":2020,"month":8,"date":11,"hours":21,"minutes":20,"seconds":18,"milliseconds":750,"utc":true}]},"axis":null},
 "y":{"datum":125.027,"type":"quantitative","scale":{"domain":[124.678367,125.5],"zero":false,"nice":false},"axis":null}}},
{"data":{"values":[{}]},"mark":{"type":"text","text":"+9","font":"Liberation Sans","fontSize":60,"color":"#ff0000","align":"center","baseline":"alphabetic"},
 "encoding":{"x":{"datum":{"year":2020,"month":8,"date":11,"hours":19,"minutes":43,"seconds":3,"utc":true},"type":"temporal","scale":{"type":"utc","domain":[{"year":2020,"month":8,"date":11,"hours":11,"minutes":59,"seconds":41,"milliseconds":250,"utc":true},{"year":2020,"month":8,"date":11,"hours":21,"minutes":20,"seconds":18,"milliseconds":750,"utc":true}]},"axis":null},
 "y":{"datum":125.065,"type":"quantitative","scale":{"domain":[124.678367,125.5],"zero":false,"nice":false},"axis":null}}},
{"data":{"name":"seps"},"mark":{"type":"text","color":"#ffffff","fontSize":16,"align":"center","baseline":"middle"},
 "encoding":{"x":{"field":"t","type":"temporal","scale":{"type":"utc","domain":[{"year":2020,"month":8,"date":11,"hours":11,"minutes":59,"seconds":41,"milliseconds":250,"utc":true},{"year":2020,"month":8,"date":11,"hours":21,"minutes":20,"seconds":18,"milliseconds":750,"utc":true}]},"axis":null},
 "y":{"datum":125.4886,"type":"quantitative","scale":{"domain":[124.678367,125.5],"zero":false,"nice":false},"axis":null},"text":{"field":"jp"}}},
{"data":{"values":[{}]},"mark":{"type":"point","shape":"triangle-down","size":16,"filled":true,"color":"#ffffff","opacity":1},
 "encoding":{"x":{"datum":{"year":2020,"month":8,"date":11,"hours":12,"minutes":1,"seconds":28,"utc":true},"type":"temporal","scale":{"type":"utc","domain":[{"year":2020,"month":8,"date":11,"hours":11,"minutes":59,"seconds":41,"milliseconds":250,"utc":true},{"year":2020,"month":8,"date":11,"hours":21,"minutes":20,"seconds":18,"milliseconds":750,"utc":true}]},"axis":null},
 "y":{"datum":125.4911,"type":"quantitative","scale":{"domain":[124.678367,125.5],"zero":false,"nice":false},"axis":null}}},
{"data":{"values":[{}]},"mark":{"type":"text","text":"EURJPY,M5","fontSize":10,"color":"#ffffff","align":"left","baseline":"alphabetic"},
 "encoding":{"x":{"datum":{"year":2020,"month":8,"date":11,"hours":12,"minutes":3,"seconds":51,"utc":true},"type":"temporal","scale":{"type":"utc","domain":[{"year":2020,"month":8,"date":11,"hours":11,"minutes":59,"seconds":41,"milliseconds":250,"utc":true},{"year":2020,"month":8,"date":11,"hours":21,"minutes":20,"seconds":18,"milliseconds":750,"utc":true}]},"axis":null},
 "y":{"datum":125.4882,"type":"quantitative","scale":{"domain":[124.678367,125.5],"zero":false,"nice":false},"axis":null}}},
{"data":{"values":[{}]},"mark":{"type":"text","text":"(c)https://ahaenfx.net","fontSize":9,"color":"#ffffff","align":"left","baseline":"alphabetic"},
 "encoding":{"x":{"datum":{"year":2020,"month":8,"date":11,"hours":12,"minutes":1,"seconds":15,"utc":true},"type":"temporal","scale":{"type":"utc","domain":[{"year":2020,"month":8,"date":11,"hours":11,"minutes":59,"seconds":41,"milliseconds":250,"utc":true},{"year":2020,"month":8,"date":11,"hours":21,"minutes":20,"seconds":18,"milliseconds":750,"utc":true}]},"axis":null},
 "y":{"datum":125.4755,"type":"quantitative","scale":{"domain":[124.678367,125.5],"zero":false,"nice":false},"axis":null}}},
{"data":{"values":[{}]},"mark":{"type":"text","text":"EURJPY M5","fontSize":32,"color":"#ffffff","align":"left","baseline":"alphabetic"},
 "encoding":{"x":{"datum":{"year":2020,"month":8,"date":11,"hours":12,"minutes":2,"seconds":49,"utc":true},"type":"temporal","scale":{"type":"utc","domain":[{"year":2020,"month":8,"date":11,"hours":11,"minutes":59,"seconds":41,"milliseconds":250,"utc":true},{"year":2020,"month":8,"date":11,"hours":21,"minutes":20,"seconds":18,"milliseconds":750,"utc":true}]},"axis":null},
 "y":{"datum":125.4627,"type":"quantitative","scale":{"domain":[124.678367,125.5],"zero":false,"nice":false},"axis":null}}}
]},
{"layer":[
{"data":{"values":[{"t":"2020-08-11T11:59:41.250Z","t2":"2020-08-11T21:20:18.750Z","p":1.0606,"p2":-3.0909}],"format":{"parse":{"t":"date","t2":"date"}}},"mark":{"type":"rect","fill":"#000000"},
 "encoding":{"x":{"field":"t","type":"temporal","scale":{"type":"utc","domain":[{"year":2020,"month":8,"date":11,"hours":11,"minutes":59,"seconds":41,"milliseconds":250,"utc":true},{"year":2020,"month":8,"date":11,"hours":21,"minutes":20,"seconds":18,"milliseconds":750,"utc":true}]},"axis":null},
 "x2":{"field":"t2"},
 "y":{"field":"p","type":"quantitative","scale":{"domain":[-3.0909,25.3939],"zero":false,"nice":false},"axis":null},"y2":{"field":"p2"}}},
{"data":{"values":[{"v":1.0606},{"v":1},{"v":0}]},"mark":{"type":"rule","color":"#ffffff","strokeWidth":1},
 "encoding":{"y":{"field":"v","type":"quantitative","scale":{"domain":[-3.0909,25.3939],"zero":false,"nice":false},"axis":null}}},
{"data":{"name":"seps"},"mark":{"type":"rule","color":"#ffffff","strokeWidth":1,"strokeDash":[3,2]},
 "encoding":{"x":{"field":"t","type":"temporal","scale":{"type":"utc","domain":[{"year":2020,"month":8,"date":11,"hours":11,"minutes":59,"seconds":41,"milliseconds":250,"utc":true},{"year":2020,"month":8,"date":11,"hours":21,"minutes":20,"seconds":18,"milliseconds":750,"utc":true}]},"axis":null},
 "y":{"datum":1,"type":"quantitative","scale":{"domain":[-3.0909,25.3939],"zero":false,"nice":false},"axis":null},"y2":{"datum":0}}},
{"data":{"name":"bars"},"mark":{"type":"point","shape":"circle","size":46,"filled":true,"opacity":1,"clip":true},
 "encoding":{"x":{"field":"t","type":"temporal","scale":{"type":"utc","domain":[{"year":2020,"month":8,"date":11,"hours":11,"minutes":59,"seconds":41,"milliseconds":250,"utc":true},{"year":2020,"month":8,"date":11,"hours":21,"minutes":20,"seconds":18,"milliseconds":750,"utc":true}]},"axis":null},
 "y":{"datum":0.55,"type":"quantitative","scale":{"domain":[-3.0909,25.3939],"zero":false,"nice":false},"axis":null},
 "color":{"field":"p","type":"nominal","scale":{"domain":["b","y","r"],"range":["#0000ff","#ffff00","#ff0000"]},"legend":null}}},
{"data":{"values":[{"t":"2020-08-11T12:00:19Z","t2":"2020-08-11T12:30:56Z","p":0.49,"p2":0}],"format":{"parse":{"t":"date","t2":"date"}}},"mark":{"type":"rect","fill":"#000000","stroke":"#a8a8a8","strokeWidth":2},
 "encoding":{"x":{"field":"t","type":"temporal","scale":{"type":"utc","domain":[{"year":2020,"month":8,"date":11,"hours":11,"minutes":59,"seconds":41,"milliseconds":250,"utc":true},{"year":2020,"month":8,"date":11,"hours":21,"minutes":20,"seconds":18,"milliseconds":750,"utc":true}]},"axis":null},
 "x2":{"field":"t2"},
 "y":{"field":"p","type":"quantitative","scale":{"domain":[-3.0909,25.3939],"zero":false,"nice":false},"axis":null},"y2":{"field":"p2"}}},
{"data":{"values":[{}]},"mark":{"type":"text","text":"Perfect_order_Tool_5M","fontSize":9.5,"color":"#ffffff","align":"left","baseline":"middle"},
 "encoding":{"x":{"datum":{"year":2020,"month":8,"date":11,"hours":12,"minutes":1,"seconds":15,"utc":true},"type":"temporal","scale":{"type":"utc","domain":[{"year":2020,"month":8,"date":11,"hours":11,"minutes":59,"seconds":41,"milliseconds":250,"utc":true},{"year":2020,"month":8,"date":11,"hours":21,"minutes":20,"seconds":18,"milliseconds":750,"utc":true}]},"axis":null},
 "y":{"datum":0.72,"type":"quantitative","scale":{"domain":[-3.0909,25.3939],"zero":false,"nice":false},"axis":null}}}
]},
{"layer":[
{"data":{"values":[{"v":1},{"v":0}]},"mark":{"type":"rule","color":"#ffffff","strokeWidth":1},
 "encoding":{"y":{"field":"v","type":"quantitative","scale":{"domain":[-2.0303,26.4545],"zero":false,"nice":false},"axis":null}}},
{"data":{"name":"seps"},"mark":{"type":"rule","color":"#ffffff","strokeWidth":1,"strokeDash":[3,2]},
 "encoding":{"x":{"field":"t","type":"temporal","scale":{"type":"utc","domain":[{"year":2020,"month":8,"date":11,"hours":11,"minutes":59,"seconds":41,"milliseconds":250,"utc":true},{"year":2020,"month":8,"date":11,"hours":21,"minutes":20,"seconds":18,"milliseconds":750,"utc":true}]},"axis":null},
 "y":{"datum":1,"type":"quantitative","scale":{"domain":[-2.0303,26.4545],"zero":false,"nice":false},"axis":null},"y2":{"datum":0}}},
{"data":{"name":"bars"},"mark":{"type":"point","shape":"circle","size":46,"filled":true,"opacity":1,"clip":true,"color":"#0000ff"},
 "encoding":{"x":{"field":"t","type":"temporal","scale":{"type":"utc","domain":[{"year":2020,"month":8,"date":11,"hours":11,"minutes":59,"seconds":41,"milliseconds":250,"utc":true},{"year":2020,"month":8,"date":11,"hours":21,"minutes":20,"seconds":18,"milliseconds":750,"utc":true}]},"axis":null},
 "y":{"datum":0.55,"type":"quantitative","scale":{"domain":[-2.0303,26.4545],"zero":false,"nice":false},"axis":null}}},
{"data":{"values":[{"t":"2020-08-11T12:00:19Z","t2":"2020-08-11T12:30:56Z","p":0.49,"p2":0}],"format":{"parse":{"t":"date","t2":"date"}}},"mark":{"type":"rect","fill":"#000000","stroke":"#a8a8a8","strokeWidth":2},
 "encoding":{"x":{"field":"t","type":"temporal","scale":{"type":"utc","domain":[{"year":2020,"month":8,"date":11,"hours":11,"minutes":59,"seconds":41,"milliseconds":250,"utc":true},{"year":2020,"month":8,"date":11,"hours":21,"minutes":20,"seconds":18,"milliseconds":750,"utc":true}]},"axis":null},
 "x2":{"field":"t2"},
 "y":{"field":"p","type":"quantitative","scale":{"domain":[-2.0303,26.4545],"zero":false,"nice":false},"axis":null},"y2":{"field":"p2"}}},
{"data":{"values":[{}]},"mark":{"type":"text","text":"Multi_time_Scope_1H","fontSize":9.5,"color":"#ffffff","align":"left","baseline":"middle"},
 "encoding":{"x":{"datum":{"year":2020,"month":8,"date":11,"hours":12,"minutes":1,"seconds":15,"utc":true},"type":"temporal","scale":{"type":"utc","domain":[{"year":2020,"month":8,"date":11,"hours":11,"minutes":59,"seconds":41,"milliseconds":250,"utc":true},{"year":2020,"month":8,"date":11,"hours":21,"minutes":20,"seconds":18,"milliseconds":750,"utc":true}]},"axis":null},
 "y":{"datum":0.7,"type":"quantitative","scale":{"domain":[-2.0303,26.4545],"zero":false,"nice":false},"axis":null}}}
]},
{"layer":[
{"data":{"values":[{"v":1},{"v":0}]},"mark":{"type":"rule","color":"#ffffff","strokeWidth":1},
 "encoding":{"y":{"field":"v","type":"quantitative","scale":{"domain":[-0.9697,27.5152],"zero":false,"nice":false},"axis":null}}},
{"data":{"name":"seps"},"mark":{"type":"rule","color":"#ffffff","strokeWidth":1,"strokeDash":[3,2]},
 "encoding":{"x":{"field":"t","type":"temporal","scale":{"type":"utc","domain":[{"year":2020,"month":8,"date":11,"hours":11,"minutes":59,"seconds":41,"milliseconds":250,"utc":true},{"year":2020,"month":8,"date":11,"hours":21,"minutes":20,"seconds":18,"milliseconds":750,"utc":true}]},"axis":null},
 "y":{"datum":1,"type":"quantitative","scale":{"domain":[-0.9697,27.5152],"zero":false,"nice":false},"axis":null},"y2":{"datum":0}}},
{"data":{"name":"bars"},"mark":{"type":"point","shape":"circle","size":46,"filled":true,"opacity":1,"clip":true},
 "encoding":{"x":{"field":"t","type":"temporal","scale":{"type":"utc","domain":[{"year":2020,"month":8,"date":11,"hours":11,"minutes":59,"seconds":41,"milliseconds":250,"utc":true},{"year":2020,"month":8,"date":11,"hours":21,"minutes":20,"seconds":18,"milliseconds":750,"utc":true}]},"axis":null},
 "y":{"datum":0.55,"type":"quantitative","scale":{"domain":[-0.9697,27.5152],"zero":false,"nice":false},"axis":null},
 "color":{"field":"q","type":"nominal","scale":{"domain":["b","y","r"],"range":["#0000ff","#ffff00","#ff0000"]},"legend":null}}},
{"data":{"values":[{"t":"2020-08-11T12:00:19Z","t2":"2020-08-11T12:30:56Z","p":0.49,"p2":0}],"format":{"parse":{"t":"date","t2":"date"}}},"mark":{"type":"rect","fill":"#000000","stroke":"#a8a8a8","strokeWidth":2},
 "encoding":{"x":{"field":"t","type":"temporal","scale":{"type":"utc","domain":[{"year":2020,"month":8,"date":11,"hours":11,"minutes":59,"seconds":41,"milliseconds":250,"utc":true},{"year":2020,"month":8,"date":11,"hours":21,"minutes":20,"seconds":18,"milliseconds":750,"utc":true}]},"axis":null},
 "x2":{"field":"t2"},
 "y":{"field":"p","type":"quantitative","scale":{"domain":[-0.9697,27.5152],"zero":false,"nice":false},"axis":null},"y2":{"field":"p2"}}},
{"data":{"values":[{}]},"mark":{"type":"text","text":"Multi_time_Scope_4H","fontSize":9.5,"color":"#ffffff","align":"left","baseline":"middle"},
 "encoding":{"x":{"datum":{"year":2020,"month":8,"date":11,"hours":12,"minutes":1,"seconds":15,"utc":true},"type":"temporal","scale":{"type":"utc","domain":[{"year":2020,"month":8,"date":11,"hours":11,"minutes":59,"seconds":41,"milliseconds":250,"utc":true},{"year":2020,"month":8,"date":11,"hours":21,"minutes":20,"seconds":18,"milliseconds":750,"utc":true}]},"axis":null},
 "y":{"datum":0.7,"type":"quantitative","scale":{"domain":[-0.9697,27.5152],"zero":false,"nice":false},"axis":null}}}
]},
{"layer":[
{"data":{"values":[{"v":1},{"v":0}]},"mark":{"type":"rule","color":"#ffffff","strokeWidth":1},
 "encoding":{"y":{"field":"v","type":"quantitative","scale":{"domain":[0,31.3333],"zero":false,"nice":false},"axis":null}}},
{"data":{"name":"seps"},"mark":{"type":"rule","color":"#ffffff","strokeWidth":1,"strokeDash":[3,2]},
 "encoding":{"x":{"field":"t","type":"temporal","scale":{"type":"utc","domain":[{"year":2020,"month":8,"date":11,"hours":11,"minutes":59,"seconds":41,"milliseconds":250,"utc":true},{"year":2020,"month":8,"date":11,"hours":21,"minutes":20,"seconds":18,"milliseconds":750,"utc":true}]},"axis":null},
 "y":{"datum":1,"type":"quantitative","scale":{"domain":[0,31.3333],"zero":false,"nice":false},"axis":null},"y2":{"datum":0}}},
{"data":{"name":"bars"},"mark":{"type":"point","shape":"circle","size":46,"filled":true,"opacity":1,"clip":true,"color":"#0000ff"},
 "encoding":{"x":{"field":"t","type":"temporal","scale":{"type":"utc","domain":[{"year":2020,"month":8,"date":11,"hours":11,"minutes":59,"seconds":41,"milliseconds":250,"utc":true},{"year":2020,"month":8,"date":11,"hours":21,"minutes":20,"seconds":18,"milliseconds":750,"utc":true}]},"axis":null},
 "y":{"datum":0.5,"type":"quantitative","scale":{"domain":[0,31.3333],"zero":false,"nice":false},"axis":null}}},
{"data":{"values":[{"t":"2020-08-11T12:00:19Z","t2":"2020-08-11T12:30:56Z","p":0.467,"p2":0}],"format":{"parse":{"t":"date","t2":"date"}}},"mark":{"type":"rect","fill":"#000000","stroke":"#a8a8a8","strokeWidth":2},
 "encoding":{"x":{"field":"t","type":"temporal","scale":{"type":"utc","domain":[{"year":2020,"month":8,"date":11,"hours":11,"minutes":59,"seconds":41,"milliseconds":250,"utc":true},{"year":2020,"month":8,"date":11,"hours":21,"minutes":20,"seconds":18,"milliseconds":750,"utc":true}]},"axis":null},
 "x2":{"field":"t2"},
 "y":{"field":"p","type":"quantitative","scale":{"domain":[0,31.3333],"zero":false,"nice":false},"axis":null},"y2":{"field":"p2"}}},
{"data":{"values":[{}]},"mark":{"type":"text","text":"Multi_time_Scope_1D","fontSize":9.5,"color":"#ffffff","align":"left","baseline":"middle"},
 "encoding":{"x":{"datum":{"year":2020,"month":8,"date":11,"hours":12,"minutes":1,"seconds":15,"utc":true},"type":"temporal","scale":{"type":"utc","domain":[{"year":2020,"month":8,"date":11,"hours":11,"minutes":59,"seconds":41,"milliseconds":250,"utc":true},{"year":2020,"month":8,"date":11,"hours":21,"minutes":20,"seconds":18,"milliseconds":750,"utc":true}]},"axis":null},
 "y":{"datum":0.667,"type":"quantitative","scale":{"domain":[0,31.3333],"zero":false,"nice":false},"axis":null}}},
{"data":{"name":"ticks"},"mark":{"type":"rule","color":"#ffffff","strokeWidth":1},
 "encoding":{"x":{"field":"t","type":"temporal","scale":{"type":"utc","domain":[{"year":2020,"month":8,"date":11,"hours":11,"minutes":59,"seconds":41,"milliseconds":250,"utc":true},{"year":2020,"month":8,"date":11,"hours":21,"minutes":20,"seconds":18,"milliseconds":750,"utc":true}]},"axis":null},
 "y":{"datum":0,"type":"quantitative","scale":{"domain":[0,31.3333],"zero":false,"nice":false},"axis":null},"y2":{"datum":-0.1667}}},
{"data":{"name":"ticks"},"mark":{"type":"text","color":"#ffffff","fontSize":9.5,"align":"left","baseline":"top","font":"Liberation Sans"},
 "encoding":{"x":{"field":"t","type":"temporal","scale":{"type":"utc","domain":[{"year":2020,"month":8,"date":11,"hours":11,"minutes":59,"seconds":41,"milliseconds":250,"utc":true},{"year":2020,"month":8,"date":11,"hours":21,"minutes":20,"seconds":18,"milliseconds":750,"utc":true}]},"axis":null},
 "y":{"datum":-0.2,"type":"quantitative","scale":{"domain":[0,31.3333],"zero":false,"nice":false},"axis":null},"text":{"field":"lab"}}},
{"data":{"values":[{"t":"2020-08-11T14:46:50Z","t2":"2020-08-11T15:13:10Z","p":-0.15,"p2":-0.567},{"t":"2020-08-11T17:46:50Z","t2":"2020-08-11T18:13:10Z","p":-0.15,"p2":-0.567}],"format":{"parse":{"t":"date","t2":"date"}}},"mark":{"type":"rect","fill":"#ffffff"},
 "encoding":{"x":{"field":"t","type":"temporal","scale":{"type":"utc","domain":[{"year":2020,"month":8,"date":11,"hours":11,"minutes":59,"seconds":41,"milliseconds":250,"utc":true},{"year":2020,"month":8,"date":11,"hours":21,"minutes":20,"seconds":18,"milliseconds":750,"utc":true}]},"axis":null},
 "x2":{"field":"t2"},
 "y":{"field":"p","type":"quantitative","scale":{"domain":[0,31.3333],"zero":false,"nice":false},"axis":null},"y2":{"field":"p2"}}},
{"data":{"name":"seps"},"mark":{"type":"text","color":"#000000","fontSize":9.5,"align":"center","baseline":"middle","font":"Liberation Sans"},
 "encoding":{"x":{"field":"t","type":"temporal","scale":{"type":"utc","domain":[{"year":2020,"month":8,"date":11,"hours":11,"minutes":59,"seconds":41,"milliseconds":250,"utc":true},{"year":2020,"month":8,"date":11,"hours":21,"minutes":20,"seconds":18,"milliseconds":750,"utc":true}]},"axis":null},
 "y":{"datum":-0.35,"type":"quantitative","scale":{"domain":[0,31.3333],"zero":false,"nice":false},"axis":null},"text":{"field":"lab"}}}
]}
]
}
